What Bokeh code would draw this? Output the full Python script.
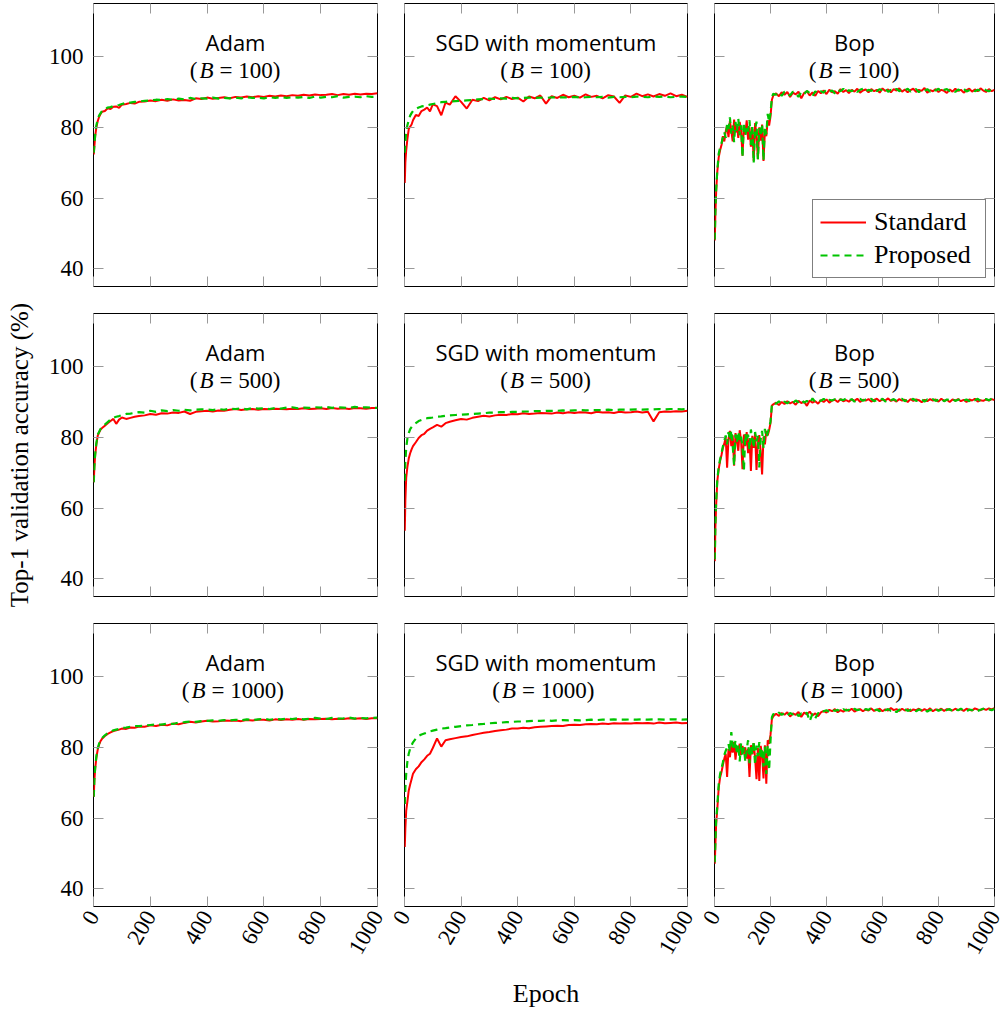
import math
from bokeh.plotting import figure
from bokeh.models import Range1d, FixedTicker, LinearAxis, Label, Legend, LegendItem
from bokeh.layouts import column, row
from bokeh.core.properties import value
from bokeh.embed import file_html
from bokeh.resources import INLINE

# ---------------- data ----------------
OPTIMIZERS = ["Adam", "SGD with momentum", "Bop"]
BATCHES = [100, 500, 1000]
SERIES = ["Standard", "Proposed"]
X_TICKS = [0, 200, 400, 600, 800, 1000]
Y_TICKS = [40, 60, 80, 100]

EPOCHS_S = [1, 3, 6, 10, 15, 20, 25, 30, 40, 50,
            60, 70, 80, 90, 100, 115, 130, 145, 160, 180,
            200, 220, 240, 260, 280, 300, 320, 340, 360, 380,
            400, 420, 440, 460, 480, 500, 520, 540, 560, 580,
            600, 620, 640, 660, 680, 700, 720, 740, 760, 780,
            800, 820, 840, 860, 880, 900, 920, 940, 960, 980,
            1000]

EPOCHS_B = [1, 3, 6, 10, 15, 20, 25, 30, 35, 40,
            45, 50, 55, 60, 65, 70, 75, 80, 85, 90,
            95, 100, 105, 110, 115, 120, 125, 130, 135, 140,
            145, 150, 155, 160, 165, 170, 175, 180, 185, 190,
            195, 200, 205, 210, 220, 230, 240, 250, 260, 270,
            280, 290, 300, 310, 320, 330, 340, 350, 360, 370,
            380, 390, 400, 410, 420, 430, 440, 450, 460, 470,
            480, 490, 500, 510, 520, 530, 540, 550, 560, 570,
            580, 590, 600, 610, 620, 630, 640, 650, 660, 670,
            680, 690, 700, 710, 720, 730, 740, 750, 760, 770,
            780, 790, 800, 810, 820, 830, 840, 850, 860, 870,
            880, 890, 900, 910, 920, 930, 940, 950, 960, 970,
            980, 990, 1000]

ADAM_100_STD = [72.3, 74.5, 77.5, 80.0, 81.8, 83.0, 83.8, 84.4, 84.6, 85.4,
                85.2, 85.8, 85.9, 85.5, 86.4, 86.6, 86.9, 86.7, 87.2, 87.3,
                87.6, 87.4, 87.8, 87.5, 87.9, 87.6, 87.7, 87.5, 88.2, 88.0,
                88.4, 88.1, 88.3, 88.5, 88.2, 88.6, 88.4, 88.7, 88.5, 88.8,
                88.6, 88.9, 88.7, 89.0, 88.8, 89.1, 88.9, 89.2, 89.0, 89.3,
                89.1, 89.2, 89.4, 89.1, 89.4, 89.2, 89.5, 89.3, 89.5, 89.4,
                89.6]
ADAM_100_PROP = [72.8, 75.0, 78.0, 80.5, 82.3, 83.4, 84.0, 84.6, 85.0, 85.6,
                 85.7, 86.0, 86.2, 86.3, 86.6, 86.9, 87.0, 87.2, 87.3, 87.5,
                 87.6, 87.8, 87.7, 88.0, 87.8, 88.1, 87.9, 88.3, 88.0, 88.2,
                 88.1, 88.4, 88.1, 88.3, 88.2, 88.4, 88.2, 88.5, 88.3, 88.4,
                 88.2, 88.5, 88.3, 88.6, 88.3, 88.5, 88.4, 88.6, 88.3, 88.7,
                 88.4, 88.6, 88.5, 88.8, 88.4, 88.6, 88.7, 88.5, 88.8, 88.6,
                 88.7]
SGD_100_STD = [64.3, 70.0, 73.5, 76.5, 79.5, 80.2, 80.8, 82.0, 83.5, 83.2,
               84.6, 85.0, 85.6, 84.5, 86.5, 86.0, 83.4, 87.0, 86.4, 88.8,
               87.2, 85.3, 87.8, 87.4, 88.3, 87.6, 88.5, 87.9, 88.6, 88.0,
               88.4, 87.3, 88.7, 88.2, 89.0, 86.7, 88.8, 88.3, 89.2, 88.5,
               88.9, 88.4, 89.3, 88.6, 88.9, 88.2, 89.1, 88.7, 86.9, 89.0,
               88.6, 89.5, 88.8, 89.3, 88.7, 89.4, 88.9, 89.6, 88.8, 89.2,
               88.6]
SGD_100_PROP = [72.8, 76.0, 78.5, 80.5, 82.0, 83.3, 84.0, 84.6, 85.2, 85.6,
                85.9, 86.0, 86.2, 86.4, 86.6, 86.8, 87.1, 87.2, 87.3, 87.4,
                87.5, 87.6, 87.7, 87.9, 88.0, 88.1, 88.0, 88.2, 88.1, 88.3,
                88.2, 88.3, 88.4, 88.3, 88.4, 88.3, 88.5, 88.4, 88.5, 88.4,
                88.6, 88.4, 88.5, 88.6, 88.5, 88.6, 88.4, 88.6, 88.5, 88.6,
                88.5, 88.7, 88.6, 88.5, 88.7, 88.6, 88.7, 88.5, 88.6, 88.7,
                88.6]
ADAM_500_STD = [67.3, 71.5, 75.0, 78.0, 80.5, 81.4, 82.2, 82.6, 83.3, 84.0,
                84.6, 85.2, 83.8, 85.0, 85.6, 85.2, 85.5, 85.8, 86.0, 86.2,
                86.6, 86.4, 86.8, 86.7, 87.0, 86.9, 87.3, 86.6, 87.2, 87.4,
                87.5, 87.3, 87.6, 87.5, 87.8, 88.0, 87.7, 87.9, 88.0, 87.8,
                88.0, 87.9, 88.1, 88.0, 87.9, 88.1, 88.0, 88.2, 88.0, 88.1,
                88.2, 88.0, 88.3, 88.1, 88.2, 88.0, 88.3, 88.2, 88.1, 88.3,
                88.3]
ADAM_500_PROP = [67.3, 71.8, 75.3, 78.3, 80.8, 81.6, 82.4, 82.9, 83.6, 84.3,
                 85.0, 85.5, 85.8, 86.0, 86.3, 86.6, 86.7, 86.9, 87.1, 87.0,
                 87.5, 87.2, 87.6, 87.4, 87.7, 87.5, 87.8, 87.6, 87.8, 87.9,
                 87.9, 87.7, 88.0, 87.8, 88.1, 88.0, 88.2, 87.9, 88.3, 88.1,
                 88.2, 88.0, 88.3, 88.1, 88.4, 88.5, 88.2, 88.4, 88.3, 88.5,
                 88.4, 88.6, 88.3, 88.5, 88.4, 88.3, 88.6, 88.4, 88.5, 88.4,
                 88.3]
SGD_500_STD = [53.6, 62.0, 68.5, 71.5, 74.0, 75.5, 76.6, 77.5, 78.6, 79.8,
               80.6, 81.0, 81.9, 82.4, 82.8, 83.5, 83.0, 84.0, 84.4, 84.8,
               85.2, 85.0, 85.5, 85.8, 86.1, 85.9, 86.2, 86.4, 86.3, 86.6,
               86.5, 86.8, 86.6, 86.7, 86.9, 86.8, 86.7, 87.0, 86.8, 87.1,
               86.9, 87.1, 87.0, 86.8, 87.2, 87.0, 87.1, 86.9, 87.2, 87.0,
               87.1, 87.3, 87.0, 87.2, 84.5, 87.1, 87.3, 87.2, 87.4, 87.3,
               87.5]
SGD_500_PROP = [67.7, 73.0, 77.0, 79.5, 81.2, 82.3, 82.9, 83.4, 84.0, 84.6,
                84.9, 85.2, 85.4, 85.5, 85.6, 85.8, 85.9, 86.1, 86.2, 86.3,
                86.4, 86.5, 86.6, 86.7, 86.8, 87.0, 87.0, 87.1, 87.1, 87.2,
                87.2, 87.3, 87.3, 87.4, 87.4, 87.5, 87.5, 87.5, 87.6, 87.5,
                87.6, 87.7, 87.6, 87.7, 87.7, 87.7, 87.8, 87.7, 87.8, 87.8,
                87.8, 87.9, 87.8, 87.9, 87.9, 88.0, 87.9, 88.0, 88.0, 87.9,
                88.0]
ADAM_1000_STD = [66.0, 70.5, 74.0, 77.0, 79.4, 80.8, 81.8, 82.4, 83.2, 83.8,
                 84.2, 84.6, 84.8, 85.0, 85.3, 85.2, 85.6, 85.5, 85.9, 85.8,
                 86.2, 86.0, 86.4, 86.2, 86.7, 86.5, 86.9, 87.2, 87.0, 87.3,
                 87.5, 87.3, 87.4, 87.6, 87.5, 87.6, 87.4, 87.7, 87.6, 87.8,
                 87.8, 87.6, 87.9, 87.7, 87.9, 87.8, 88.0, 87.8, 88.0, 87.9,
                 88.0, 88.1, 87.9, 88.1, 88.0, 88.2, 88.1, 88.2, 88.0, 88.2,
                 88.2]
ADAM_1000_PROP = [66.0, 70.8, 74.4, 77.4, 79.8, 81.1, 82.0, 82.6, 83.4, 84.0,
                  84.4, 84.8, 85.0, 85.2, 85.5, 85.6, 85.8, 86.0, 86.0, 86.1,
                  86.3, 86.5, 86.4, 86.7, 86.6, 87.0, 87.1, 87.3, 87.2, 87.4,
                  87.5, 87.6, 87.5, 87.7, 87.6, 87.8, 87.6, 87.9, 87.7, 87.9,
                  88.1, 87.8, 88.0, 87.9, 88.1, 88.0, 88.2, 87.9, 88.1, 88.3,
                  88.1, 88.0, 88.3, 88.1, 88.2, 88.4, 88.1, 88.3, 88.2, 88.3,
                  88.4]
SGD_1000_STD = [51.8, 57.0, 62.0, 64.5, 67.8, 69.5, 71.0, 72.5, 73.8, 74.6,
                75.8, 76.6, 77.6, 78.2, 79.8, 82.5, 80.2, 82.0, 82.3, 82.6,
                82.9, 83.1, 83.5, 83.8, 84.1, 84.3, 84.6, 84.8, 85.0, 85.3,
                85.3, 85.5, 85.4, 85.7, 85.8, 85.9, 86.0, 86.1, 86.0, 86.3,
                86.4, 86.3, 86.5, 86.6, 86.5, 86.7, 86.6, 86.8, 86.7, 86.8,
                86.7, 86.9, 86.8, 86.9, 86.7, 87.0, 86.8, 86.9, 87.0, 86.8,
                86.9]
SGD_1000_PROP = [64.0, 68.5, 72.5, 75.8, 78.2, 79.6, 80.6, 81.4, 82.5, 83.2,
                 83.6, 83.9, 84.2, 84.5, 84.7, 85.0, 85.3, 85.4, 85.6, 85.8,
                 86.0, 86.2, 86.3, 86.5, 86.6, 86.8, 86.9, 87.0, 87.1, 87.2,
                 87.3, 87.3, 87.4, 87.5, 87.5, 87.6, 87.5, 87.6, 87.7, 87.6,
                 87.7, 87.6, 87.7, 87.8, 87.7, 87.8, 87.8, 87.9, 87.8, 87.8,
                 87.9, 87.8, 87.9, 87.8, 87.9, 87.9, 87.8, 87.9, 87.9, 87.8,
                 87.9]

BOP_100_STD = [48.0, 55.0, 62.0, 67.5, 71.5, 73.5, 75.0, 77.5, 76.0, 78.8,
               80.5, 77.2, 81.8, 79.0, 76.0, 82.2, 78.5, 80.8, 77.0, 81.5,
               79.2, 72.0, 80.5, 78.0, 82.0, 76.5, 80.0, 74.5, 79.5, 70.5,
               81.2, 77.8, 71.0, 80.0, 76.2, 80.8, 70.5, 79.0, 77.5, 82.0,
               80.5, 83.0, 87.8, 89.0, 89.6, 88.8, 89.9, 89.2, 90.0, 88.6,
               89.8, 89.3, 90.1, 88.2, 89.7, 90.2, 89.0, 89.9, 88.9, 90.3,
               89.6, 90.4, 89.4, 90.6, 89.9, 90.2, 89.5, 90.8, 90.0, 90.5,
               89.7, 90.6, 90.1, 90.9, 89.8, 90.4, 90.7, 89.9, 90.8, 90.2,
               90.6, 89.8, 91.0, 90.3, 90.7, 89.9, 90.8, 90.4, 91.0, 90.1,
               90.7, 89.9, 90.5, 90.9, 90.0, 90.6, 90.3, 91.1, 89.8, 90.5,
               90.2, 90.8, 90.0, 90.6, 90.3, 89.7, 90.7, 90.1, 90.9, 90.3,
               90.6, 89.8, 90.5, 90.9, 90.1, 90.7, 90.2, 91.0, 90.4, 90.0,
               90.8, 90.2, 90.6]
BOP_100_PROP = [48.3, 56.0, 62.5, 67.8, 72.5, 74.3, 75.5, 77.2, 78.6, 77.0,
                81.0, 79.5, 82.8, 78.2, 80.5, 75.8, 81.5, 79.0, 82.4, 77.8,
                80.6, 71.5, 81.4, 77.6, 80.2, 78.8, 82.0, 75.0, 80.7, 70.0,
                79.5, 81.6, 71.0, 79.8, 77.5, 81.0, 70.6, 80.2, 78.0, 83.8,
                81.5, 84.0, 88.5, 89.5, 89.2, 89.9, 88.9, 90.1, 89.5, 89.0,
                90.1, 89.6, 88.6, 90.0, 89.4, 90.3, 89.7, 88.8, 90.2, 89.5,
                90.2, 89.8, 90.7, 90.1, 90.4, 89.6, 90.6, 90.2, 90.9, 89.9,
                90.5, 90.2, 90.8, 90.0, 90.6, 90.9, 90.1, 90.6, 90.3, 90.9,
                90.2, 90.8, 90.4, 91.0, 90.0, 90.6, 90.3, 90.9, 90.2, 90.7,
                90.4, 90.9, 90.1, 90.6, 90.8, 89.9, 90.6, 90.3, 90.8, 90.1,
                90.7, 90.4, 90.9, 90.0, 90.6, 90.8, 90.2, 90.5, 90.0, 90.7,
                90.3, 90.9, 90.1, 90.5, 90.8, 90.2, 90.6, 90.4, 90.9, 90.5,
                90.2, 90.7, 90.4]
BOP_500_STD = [45.0, 54.0, 61.0, 67.6, 71.0, 73.3, 75.0, 77.0, 78.2, 80.0,
               71.4, 79.5, 81.8, 77.5, 80.6, 72.0, 81.2, 78.8, 76.2, 82.0,
               79.0, 71.0, 80.8, 77.5, 81.5, 75.5, 79.8, 70.5, 80.4, 77.0,
               81.0, 70.8, 78.5, 80.6, 76.0, 69.5, 80.2, 78.0, 81.8, 80.5,
               82.0, 84.0, 89.0, 89.3, 89.8, 89.1, 90.0, 89.4, 90.2, 89.6,
               90.0, 89.2, 90.3, 89.7, 90.1, 88.9, 90.4, 89.8, 90.2, 89.5,
               90.5, 90.0, 90.7, 89.8, 90.4, 90.6, 90.0, 90.8, 90.2, 90.5,
               90.1, 90.7, 90.3, 90.9, 90.0, 90.6, 90.4, 90.8, 90.1, 90.6,
               90.9, 90.2, 90.7, 90.4, 91.0, 90.3, 90.6, 90.1, 90.8, 90.4,
               90.6, 90.0, 90.8, 90.3, 90.7, 90.5, 89.9, 90.6, 90.2, 90.8,
               90.4, 90.7, 90.1, 90.9, 90.3, 90.6, 90.0, 90.7, 90.4, 90.8,
               90.2, 90.6, 90.0, 90.7, 90.4, 90.9, 90.1, 90.5, 90.3, 90.7,
               90.4, 90.8, 90.5]
BOP_500_PROP = [45.5, 55.0, 62.0, 68.0, 71.6, 73.8, 75.5, 77.4, 79.0, 80.5,
                78.0, 81.5, 79.2, 82.0, 77.6, 72.0, 80.8, 78.5, 81.6, 79.0,
                80.2, 77.5, 70.5, 81.0, 78.6, 80.8, 76.5, 82.2, 79.6, 77.0,
                81.5, 78.8, 80.4, 71.5, 79.5, 81.8, 77.0, 82.4, 80.0, 81.2,
                82.6, 84.5, 89.2, 89.8, 89.5, 90.2, 89.4, 90.1, 89.6, 90.3,
                89.7, 90.4, 89.9, 90.6, 89.8, 90.3, 89.6, 91.0, 90.0, 90.5,
                90.3, 90.9, 90.1, 90.6, 90.4, 90.8, 90.2, 90.7, 90.5, 91.0,
                90.4, 90.8, 90.1, 90.6, 90.9, 90.3, 90.7, 90.5, 90.9, 90.2,
                90.6, 90.4, 90.9, 90.1, 90.7, 90.5, 90.8, 90.3, 90.6, 90.9,
                90.2, 90.7, 90.4, 90.9, 90.3, 90.6, 90.8, 90.1, 90.7, 90.4,
                90.8, 90.3, 90.6, 90.9, 90.2, 90.7, 90.5, 90.8, 90.3, 90.6,
                90.9, 90.4, 90.7, 90.2, 90.8, 90.5, 90.9, 90.3, 90.6, 90.8,
                90.5, 90.9, 90.6]
BOP_1000_STD = [47.1, 52.0, 58.5, 62.5, 68.5, 71.5, 73.0, 75.0, 76.8, 78.2,
                71.6, 79.5, 77.2, 80.8, 78.5, 81.5, 76.5, 80.2, 79.0, 81.0,
                77.8, 80.4, 78.2, 80.0, 76.8, 79.6, 71.6, 80.6, 78.0, 81.2,
                77.0, 71.0, 79.8, 70.5, 80.4, 77.8, 71.2, 80.6, 69.7, 82.0,
                81.0, 83.5, 88.0, 88.8, 89.5, 88.9, 89.7, 89.2, 89.9, 88.7,
                89.6, 89.2, 90.0, 88.6, 89.8, 89.3, 90.1, 89.0, 89.6, 88.8,
                89.9, 90.3, 89.8, 90.6, 90.2, 90.8, 89.9, 90.5, 90.1, 90.7,
                90.3, 90.9, 90.1, 90.6, 90.8, 90.2, 90.7, 90.4, 91.0, 90.3,
                90.6, 90.9, 90.2, 90.7, 90.4, 91.1, 90.5, 90.8, 90.3, 90.9,
                90.4, 90.8, 90.2, 90.7, 90.5, 90.9, 90.3, 90.8, 90.4, 91.0,
                90.2, 90.7, 90.5, 90.9, 90.3, 90.8, 90.6, 90.4, 90.9, 90.5,
                90.8, 90.3, 90.9, 90.6, 90.4, 91.0, 90.7, 90.5, 90.9, 90.6,
                91.0, 90.7, 91.1]
BOP_1000_PROP = [47.5, 53.0, 59.5, 63.5, 69.5, 72.5, 74.0, 75.8, 77.8, 79.0,
                 80.0, 81.0, 78.8, 84.3, 80.5, 79.2, 82.0, 78.0, 80.8, 76.0,
                 81.2, 77.5, 80.0, 76.0, 79.5, 82.0, 75.5, 80.6, 78.0, 81.8,
                 75.0, 80.5, 77.5, 81.5, 76.8, 79.8, 74.5, 80.2, 72.5, 80.6,
                 73.5, 81.8, 88.5, 89.4, 89.0, 89.8, 89.2, 89.6, 88.9, 89.7,
                 89.3, 89.9, 88.8, 89.6, 89.1, 89.8, 87.4, 89.5, 88.2, 89.7,
                 89.4, 90.2, 90.5, 90.0, 90.7, 90.3, 90.6, 90.1, 90.8, 90.4,
                 90.6, 90.2, 90.9, 90.5, 90.7, 90.3, 90.8, 90.6, 91.1, 90.4,
                 90.7, 90.2, 90.9, 90.5, 90.8, 90.3, 90.6, 89.9, 90.7, 90.4,
                 90.8, 90.3, 90.6, 90.9, 90.2, 90.7, 90.5, 90.8, 90.1, 90.6,
                 90.4, 90.9, 90.3, 90.7, 90.0, 90.6, 90.8, 90.2, 90.7, 90.5,
                 90.9, 90.4, 90.1, 90.7, 90.5, 90.8, 90.3, 90.6, 90.9, 90.4,
                 90.7, 90.5, 90.9]

PANEL_DATA = {
    ("Adam", 100): (EPOCHS_S, ADAM_100_STD, ADAM_100_PROP),
    ("SGD with momentum", 100): (EPOCHS_S, SGD_100_STD, SGD_100_PROP),
    ("Bop", 100): (EPOCHS_B, BOP_100_STD, BOP_100_PROP),
    ("Adam", 500): (EPOCHS_S, ADAM_500_STD, ADAM_500_PROP),
    ("SGD with momentum", 500): (EPOCHS_S, SGD_500_STD, SGD_500_PROP),
    ("Bop", 500): (EPOCHS_B, BOP_500_STD, BOP_500_PROP),
    ("Adam", 1000): (EPOCHS_S, ADAM_1000_STD, ADAM_1000_PROP),
    ("SGD with momentum", 1000): (EPOCHS_S, SGD_1000_STD, SGD_1000_PROP),
    ("Bop", 1000): (EPOCHS_B, BOP_1000_STD, BOP_1000_PROP),
}

# ---------------- style ----------------
RED = "#ff0000"
GREEN = "#00c400"
SERIF = "Liberation Serif"
SANS = "Open Sans"
TICK_COLOR = "#999999"

WIDTHS = [388, 310, 308]
HEIGHTS = [299, 310, 404]
MB_LEFT = [93, 16, 16]
MB_RIGHT = [11, 11, 12]
MB_TOP = [3, 14, 14]
MB_BOTTOM = [13, 13, 107]


def add_axis(p, side, ticks, show_labels, rotate=False, label=None):
    ax = LinearAxis(ticker=FixedTicker(ticks=ticks))
    ax.axis_line_color = None
    ax.major_tick_in = 10
    ax.major_tick_out = 0
    ax.major_tick_line_color = TICK_COLOR
    ax.major_tick_line_width = 1
    ax.minor_tick_line_color = None
    if show_labels:
        ax.major_label_text_font = SERIF
        ax.major_label_text_font_size = "23px"
        ax.major_label_text_color = "black"
        ax.major_label_standoff = 10 if not rotate else 6
        if rotate:
            ax.major_label_orientation = math.pi / 3
    else:
        ax.major_label_overrides = {t: "" for t in ticks}
        ax.major_label_text_font_size = "1px"
        ax.major_label_standoff = 0
    if label is not None:
        ax.axis_label = label
        ax.axis_label_text_font = SERIF
        ax.axis_label_text_font_size = "25px" if side == "left" else "26px"
        ax.axis_label_text_font_style = "normal"
        ax.axis_label_text_color = "black"
        ax.axis_label_standoff = 13 if side == "left" else 16
    p.add_layout(ax, side)
    return ax


def make_panel(ri, ci):
    opt = OPTIMIZERS[ci]
    batch = BATCHES[ri]
    epochs, std, prop = PANEL_DATA[(opt, batch)]
    p = figure(width=WIDTHS[ci], height=HEIGHTS[ri],
               x_range=Range1d(0, 1000), y_range=Range1d(35, 115),
               output_backend="svg", toolbar_location=None,
               x_axis_location=None, y_axis_location=None,
               min_border_left=MB_LEFT[ci], min_border_right=MB_RIGHT[ci],
               min_border_top=MB_TOP[ri], min_border_bottom=MB_BOTTOM[ri])
    p.grid.grid_line_color = None
    p.outline_line_color = "black"
    p.outline_line_width = 1
    p.background_fill_color = "white"
    p.border_fill_color = "white"

    add_axis(p, "left", Y_TICKS, show_labels=(ci == 0),
             label="Top-1 validation accuracy (%)" if (ci == 0 and ri == 1) else None)
    add_axis(p, "right", Y_TICKS, show_labels=False)
    add_axis(p, "below", X_TICKS, show_labels=(ri == 2), rotate=(ri == 2),
             label="Epoch" if (ri == 2 and ci == 1) else None)
    add_axis(p, "above", X_TICKS, show_labels=False)

    r_std = p.line(epochs, std, line_color=RED, line_width=2)
    r_prop = p.line(epochs, prop, line_color=GREEN, line_width=2.2, line_dash="7 5")

    # panel title, two lines
    p.add_layout(Label(x=500, y=104, text=opt, text_align="center", text_baseline="middle",
                       text_font=SANS, text_font_size="22px", text_color="black"))
    cb = -29 if batch < 1000 else -37
    p.add_layout(Label(x=500, y=96, x_offset=cb - 9, text="(", text_align="right",
                       text_baseline="middle", text_font=SERIF, text_font_size="23px",
                       text_color="black"))
    p.add_layout(Label(x=500, y=96, x_offset=cb, text="B", text_align="center",
                       text_baseline="middle", text_font=SERIF, text_font_style="italic",
                       text_font_size="23px", text_color="black"))
    p.add_layout(Label(x=500, y=96, x_offset=cb + 13, text="= %d)" % batch, text_align="left",
                       text_baseline="middle", text_font=SERIF, text_font_size="23px",
                       text_color="black"))

    if ri == 0 and ci == 2:
        legend = Legend(items=[LegendItem(label=value(SERIES[0]), renderers=[r_std]),
                               LegendItem(label=value(SERIES[1]), renderers=[r_prop])],
                        location="bottom_right", margin=8, padding=7, spacing=3,
                        glyph_width=46, glyph_height=20, label_standoff=8,
                        label_width=104,
                        label_text_font=SERIF, label_text_font_size="26px",
                        label_text_color="black",
                        border_line_color="black", border_line_width=1,
                        background_fill_color="white", background_fill_alpha=1)
        p.add_layout(legend, "center")
    return p


rows = []
for ri in range(3):
    rows.append(row(*[make_panel(ri, ci) for ci in range(3)]))
layout = column(*rows)

open("out.html", "w").write(file_html(layout, INLINE))
